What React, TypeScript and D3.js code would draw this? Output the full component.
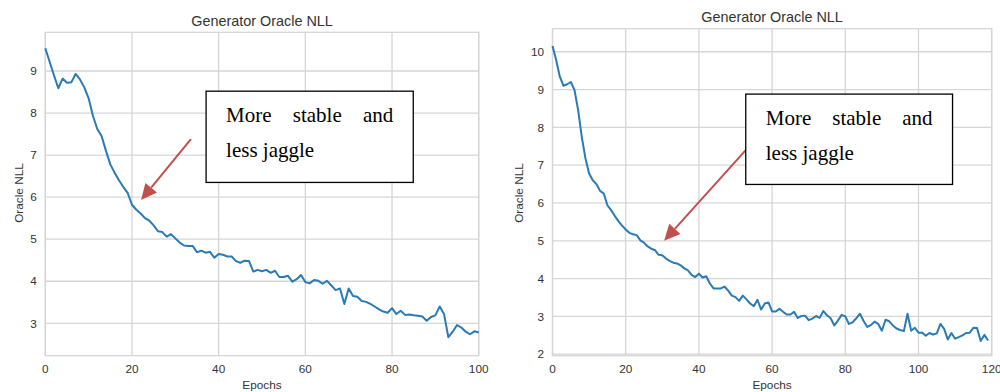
import React, { useEffect, useRef } from 'react';
import * as d3 from 'd3';

const W = 1000;
const H = 392;

// oracle NLL per epoch, first run (epochs 0..100)
const leftNll = [
  9.54, 9.22, 8.9, 8.59, 8.82, 8.72, 8.73, 8.93, 8.8, 8.61,
  8.35, 7.93, 7.62, 7.45, 7.1, 6.78, 6.58, 6.4, 6.24, 6.1,
  5.82, 5.7, 5.61, 5.5, 5.44, 5.33, 5.19, 5.17, 5.06, 5.12,
  5.02, 4.92, 4.85, 4.84, 4.84, 4.69, 4.73, 4.68, 4.7, 4.56,
  4.65, 4.63, 4.59, 4.59, 4.48, 4.44, 4.49, 4.48, 4.23, 4.27,
  4.24, 4.27, 4.2, 4.25, 4.1, 4.1, 4.13, 3.99, 4.05, 4.15,
  3.98, 3.95, 4.03, 4.01, 3.94, 4.01, 3.9, 3.79, 3.83, 3.46,
  3.83, 3.65, 3.63, 3.53, 3.51, 3.46, 3.4, 3.33, 3.28, 3.25,
  3.36, 3.22, 3.3, 3.2, 3.21, 3.19, 3.18, 3.16, 3.06, 3.15,
  3.19, 3.4, 3.22, 2.67, 2.8, 2.96, 2.9, 2.8, 2.74, 2.81,
  2.78,
];

// oracle NLL per epoch, second run (epochs 0..119)
const rightNll = [
  10.15, 9.78, 9.34, 9.1, 9.14, 9.2, 8.99, 8.46, 7.75, 7.18,
  6.78, 6.6, 6.5, 6.32, 6.25, 5.94, 5.81, 5.66, 5.52, 5.4,
  5.3, 5.21, 5.17, 5.15, 5.01, 4.95, 4.85, 4.79, 4.75, 4.63,
  4.62, 4.53, 4.47, 4.42, 4.4, 4.35, 4.27, 4.22, 4.1, 4.04,
  4.13, 4.03, 4.06, 3.87, 3.74, 3.74, 3.74, 3.79, 3.68, 3.55,
  3.51, 3.41, 3.55, 3.45, 3.34, 3.27, 3.44, 3.18, 3.34, 3.37,
  3.13, 3.13, 3.2, 3.12, 3.05, 3.05, 3.12, 2.96, 3.01, 3.02,
  2.9, 2.94, 3.01, 2.96, 3.14, 3.03, 2.95, 2.76, 2.89, 3.04,
  3.0, 2.8, 2.84, 2.95, 3.07, 2.88, 2.72, 2.77, 2.86, 2.8,
  2.62, 2.91, 2.87, 2.76, 2.68, 2.64, 2.61, 3.07, 2.62, 2.7,
  2.57, 2.57, 2.49, 2.56, 2.52, 2.55, 2.8, 2.67, 2.39, 2.56,
  2.41, 2.45, 2.5, 2.56, 2.57, 2.7, 2.69, 2.35, 2.51, 2.36,
];

const leftXTicks = [0, 20, 40, 60, 80, 100];
const leftYTicks = [3, 4, 5, 6, 7, 8, 9];
const rightXTicks = [0, 20, 40, 60, 80, 100, 120];
const rightYTicks = [2, 3, 4, 5, 6, 7, 8, 9, 10];

const chartTitle = 'Generator Oracle NLL';
const xLabel = 'Epochs';
const yLabel = 'Oracle NLL';
const noteFirstLine = ['More', 'stable', 'and'];
const noteSecondLine = 'less jaggle';

const sans = '"Liberation Sans", Arial, sans-serif';
const serif = '"Liberation Serif", "Times New Roman", serif';
const lineColor = '#2a7ab5';
const arrowColor = '#c0504d';
const gridColor = '#d6d6d6';

// layout + annotation anchors (annotation in data coords, like matplotlib annotate)
const panels = [
  {
    data: leftNll,
    xTicks: leftXTicks,
    yTicks: leftYTicks,
    xDomain: [0, 100],
    yDomain: [2.23, 9.92],
    plot: { left: 45.3, right: 478.7, top: 32.3, bottom: 355.7 },
    titleY: 26,
    yLabelX: 22.5,
    note: { x0: 37.1, x1: 84.9, y0: 8.52, y1: 6.35 },
    arrow: { from: [33.6, 7.38], to: [22.1, 5.93] },
  },
  {
    data: rightNll,
    xTicks: rightXTicks,
    yTicks: rightYTicks,
    xDomain: [0, 120],
    yDomain: [1.96, 10.61],
    plot: { left: 552.5, right: 991.7, top: 28.7, bottom: 355.7 },
    titleY: 21.7,
    yLabelX: 522.7,
    note: { x0: 52.8, x1: 109.3, y0: 8.88, y1: 6.49 },
    arrow: { from: [52.8, 7.4], to: [30.5, 5.0] },
  },
];

export default function App() {
  const ref = useRef<SVGSVGElement>(null);

  useEffect(() => {
    const svg = d3.select(ref.current);
    svg.selectAll('*').remove();

    panels.forEach(p => {
      const x = d3.scaleLinear().domain(p.xDomain).range([p.plot.left, p.plot.right]);
      const y = d3.scaleLinear().domain(p.yDomain).range([p.plot.bottom, p.plot.top]);
      const g = svg.append('g');
      const midX = (p.plot.left + p.plot.right) / 2;

      // grid
      g.selectAll('.gx').data(p.xTicks).enter().append('line')
        .attr('x1', d => x(d)).attr('x2', d => x(d))
        .attr('y1', p.plot.top).attr('y2', p.plot.bottom)
        .attr('stroke', gridColor).attr('stroke-width', 1.3);
      g.selectAll('.gy').data(p.yTicks).enter().append('line')
        .attr('x1', p.plot.left).attr('x2', p.plot.right)
        .attr('y1', d => y(d)).attr('y2', d => y(d))
        .attr('stroke', gridColor).attr('stroke-width', 1.3);

      // frame
      g.append('rect')
        .attr('x', p.plot.left).attr('y', p.plot.top)
        .attr('width', p.plot.right - p.plot.left).attr('height', p.plot.bottom - p.plot.top)
        .attr('fill', 'none').attr('stroke', gridColor).attr('stroke-width', 1.3);

      // tick labels
      g.selectAll('.tx').data(p.xTicks).enter().append('text')
        .attr('x', d => x(d)).attr('y', p.plot.bottom + 17.5)
        .attr('text-anchor', 'middle')
        .attr('font-family', sans).attr('font-size', 11.8).attr('fill', '#333')
        .text(d => `${d}`);
      g.selectAll('.ty').data(p.yTicks).enter().append('text')
        .attr('x', p.plot.left - 8.5).attr('y', d => y(d) + 4.2)
        .attr('text-anchor', 'end')
        .attr('font-family', sans).attr('font-size', 11.8).attr('fill', '#333')
        .text(d => `${d}`);

      // titles and labels
      g.append('text')
        .attr('x', midX).attr('y', p.titleY).attr('text-anchor', 'middle')
        .attr('font-family', sans).attr('font-size', 14.4).attr('fill', '#333')
        .text(chartTitle);
      g.append('text')
        .attr('x', midX).attr('y', 389).attr('text-anchor', 'middle')
        .attr('font-family', sans).attr('font-size', 11.8).attr('fill', '#333')
        .text(xLabel);
      g.append('text')
        .attr('transform', `translate(${p.yLabelX},193) rotate(-90)`)
        .attr('text-anchor', 'middle')
        .attr('font-family', sans).attr('font-size', 11.8).attr('fill', '#333')
        .text(yLabel);

      // the series
      const line = d3.line<number>().x((d, i) => x(i)).y(d => y(d));
      g.append('path')
        .attr('d', line(p.data))
        .attr('fill', 'none').attr('stroke', lineColor)
        .attr('stroke-width', 2).attr('stroke-linejoin', 'round');

      // arrow
      const [fx, fy] = [x(p.arrow.from[0]), y(p.arrow.from[1])];
      const [tx, ty] = [x(p.arrow.to[0]), y(p.arrow.to[1])];
      const ang = Math.atan2(ty - fy, tx - fx);
      const headLen = 16, headHalf = 7.5;
      const bx = tx - headLen * Math.cos(ang), by = ty - headLen * Math.sin(ang);
      g.append('line')
        .attr('x1', fx).attr('y1', fy).attr('x2', bx).attr('y2', by)
        .attr('stroke', arrowColor).attr('stroke-width', 2);
      const nx = -Math.sin(ang), ny = Math.cos(ang);
      g.append('path')
        .attr('d', `M${tx},${ty}L${bx + nx * headHalf},${by + ny * headHalf}L${bx - nx * headHalf},${by - ny * headHalf}Z`)
        .attr('fill', arrowColor);

      // note box
      const bl = x(p.note.x0), br = x(p.note.x1), bt = y(p.note.y0), bb = y(p.note.y1);
      g.append('rect')
        .attr('x', bl).attr('y', bt).attr('width', br - bl).attr('height', bb - bt)
        .attr('fill', '#fff').attr('stroke', '#000').attr('stroke-width', 1.3);

      const textL = bl + 20, textR = br - 20;
      const words = noteFirstLine.map(w => g.append('text')
        .attr('y', bt + 30.5)
        .attr('font-family', serif).attr('font-size', 21).attr('fill', '#000')
        .text(w));
      // justify first line like the word box did
      const widths = words.map(t => (t.node() as SVGTextElement).getComputedTextLength());
      const gap = (textR - textL - d3.sum(widths)) / (words.length - 1);
      let cx = textL;
      words.forEach((t, i) => {
        t.attr('x', cx);
        cx += widths[i] + gap;
      });
      g.append('text')
        .attr('x', textL).attr('y', bt + 66)
        .attr('font-family', serif).attr('font-size', 21).attr('fill', '#000')
        .text(noteSecondLine);
    });
  }, []);

  return (
    <svg ref={ref} width={W} height={H}
      style={{ position: 'absolute', left: 0, top: 0, background: '#fff' }} />
  );
}
